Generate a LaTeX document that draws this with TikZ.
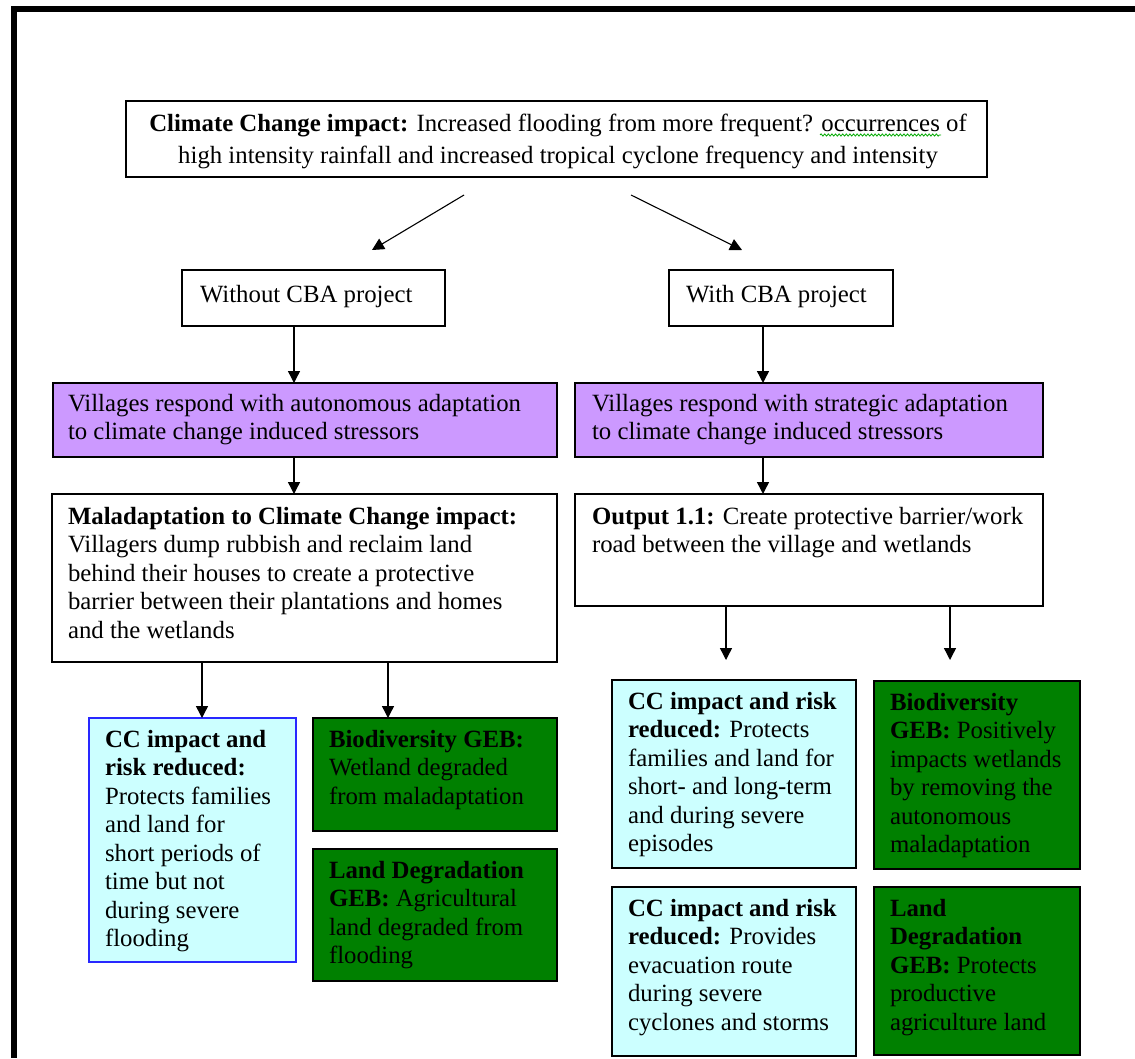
\documentclass[tikz,border=0pt]{standalone}
\usepackage{fontspec}
\setmainfont{Liberation Serif}
\usetikzlibrary{arrows.meta,decorations.pathmorphing}
\definecolor{purplebox}{RGB}{204,153,255}
\definecolor{cyanbox}{RGB}{204,255,255}
\definecolor{greenbox}{RGB}{0,128,0}
\definecolor{bluebord}{RGB}{40,40,255}
\definecolor{spellgreen}{RGB}{0,170,0}
\begin{document}
\begin{tikzpicture}[x=1pt,y=-1pt,
  box/.style={draw=black, line width=1.6pt, rectangle, inner sep=0pt, outer sep=0pt, anchor=north west},
  whitebox/.style={box, fill=white},
  purplebx/.style={box, fill=purplebox},
  cyanbx/.style={box, fill=cyanbox},
  greenbx/.style={box, fill=greenbox},
  txt/.style={inner sep=0pt, outer sep=0pt, anchor=base west, font=\fontsize{24.8}{28.5}\selectfont},
  arr/.style={line width=1.4pt, -{Triangle[length=12pt,width=12pt]}},
  diag/.style={line width=1.1pt, -{Triangle[length=12pt,width=12pt]}}
]
\useasboundingbox (0,0) rectangle (1135,1058);
\fill[white] (0,0) rectangle (1135,1058);
% frame
\fill[black] (11,6) rectangle (1135,12);
\fill[black] (11,6) rectangle (17,1058);

% boxes
\node[whitebox, minimum width=861pt, minimum height=76pt] (top) at (126,101) {};
\node[whitebox, minimum width=263pt, minimum height=56pt] (without) at (182,270) {};
\node[whitebox, minimum width=224pt, minimum height=56pt] (with) at (669,270) {};
\node[purplebx, minimum width=504pt, minimum height=74pt] (purpleL) at (53,383) {};
\node[purplebx, minimum width=468pt, minimum height=74pt] (purpleR) at (575,383) {};
\node[whitebox, minimum width=505pt, minimum height=168pt] (mal) at (52,494) {};
\node[whitebox, minimum width=468pt, minimum height=112pt] (out) at (575,494) {};
\node[cyanbx, draw=bluebord, minimum width=207pt, minimum height=244pt] (lbL) at (89,718) {};
\node[greenbx, minimum width=244pt, minimum height=113pt] (gBioL) at (313,718) {};
\node[greenbx, minimum width=244pt, minimum height=132pt] (gLandL) at (313,849) {};
\node[cyanbx, minimum width=244pt, minimum height=188pt] (lbRa) at (612,680) {};
\node[greenbx, minimum width=206pt, minimum height=188pt] (gBioR) at (874,681) {};
\node[cyanbx, minimum width=244pt, minimum height=169pt] (lbRb) at (612,887) {};
\node[greenbx, minimum width=206pt, minimum height=168pt] (gLandR) at (874,887) {};

% texts
\node[txt, anchor=base, font=\fontsize{24.8}{32}\selectfont] (ttop) at (558,131)
  {\parbox[t]{850pt}{\centering\textbf{Climate Change impact:} Increased flooding from more frequent? occurrences of\\high intensity rainfall and increased tropical cyclone frequency and intensity}};
\draw[spellgreen, line width=0.8pt, decorate, decoration={snake, segment length=3.6pt, amplitude=1.1pt}] (820,135) -- (941,135);

\node[txt] (twithout) at (200,302) {Without CBA project};
\node[txt] (twith) at (686,302) {With CBA project};

\node[txt] (tpurpleL) at (68,411) {\parbox[t]{480pt}{\raggedright Villages respond with autonomous adaptation\\to climate change induced stressors}};
\node[txt] (tpurpleR) at (592,411) {\parbox[t]{440pt}{\raggedright Villages respond with strategic adaptation\\to climate change induced stressors}};

\node[txt] (tmal) at (68,524) {\parbox[t]{480pt}{\raggedright\textbf{Maladaptation to Climate Change impact:}\\Villagers dump rubbish and reclaim land\\behind their houses to create a protective\\barrier between their plantations and homes\\and the wetlands}};
\node[txt] (tout) at (592,524) {\parbox[t]{440pt}{\raggedright\textbf{Output 1.1:} Create protective barrier/work\\road between the village and wetlands}};

\node[txt] (tlbL) at (105,747) {\parbox[t]{186pt}{\raggedright\textbf{CC impact and}\\\textbf{risk reduced:}\\Protects families\\and land for\\short periods of\\time but not\\during severe\\flooding}};
\node[txt] (tgBioL) at (329,747) {\parbox[t]{224pt}{\raggedright\textbf{Biodiversity GEB:}\\Wetland degraded\\from maladaptation}};
\node[txt] (tgLandL) at (329,878) {\parbox[t]{224pt}{\raggedright\textbf{Land Degradation}\\\textbf{GEB:} Agricultural\\land degraded from\\flooding}};

\node[txt] (tlbRa) at (628,709) {\parbox[t]{224pt}{\raggedright\textbf{CC impact and risk}\\\textbf{reduced:} Protects\\families and land for\\short- and long-term\\and during severe\\episodes}};
\node[txt] (tgBioR) at (890,710) {\parbox[t]{186pt}{\raggedright\textbf{Biodiversity}\\\textbf{GEB:} Positively\\impacts wetlands\\by removing the\\autonomous\\maladaptation}};
\node[txt] (tlbRb) at (628,916) {\parbox[t]{224pt}{\raggedright\textbf{CC impact and risk}\\\textbf{reduced:} Provides\\evacuation route\\during severe\\cyclones and storms}};
\node[txt] (tgLandR) at (890,916) {\parbox[t]{186pt}{\raggedright\textbf{Land}\\\textbf{Degradation}\\\textbf{GEB:} Protects\\productive\\agriculture land}};

% connector coordinates
\coordinate (dLs) at (464,195);
\coordinate (dLe) at (372,250);
\coordinate (dRs) at (631,195);
\coordinate (dRe) at (742,250);
\coordinate (xL) at (294,0);
\coordinate (xR) at (763,0);
\coordinate (xa) at (202,0);
\coordinate (xb) at (388,0);
\coordinate (xc) at (726,0);
\coordinate (xd) at (950,0);
\coordinate (endc) at (726,660);
\coordinate (endd) at (950,660);

% connectors
\draw[diag] (dLs) -- (dLe);
\draw[diag] (dRs) -- (dRe);
\draw[arr] (xL |- without.south) -- (xL |- purpleL.north);
\draw[arr] (xR |- with.south) -- (xR |- purpleR.north);
\draw[arr] (xL |- purpleL.south) -- (xL |- mal.north);
\draw[arr] (xR |- purpleR.south) -- (xR |- out.north);
\draw[arr] (xa |- mal.south) -- (xa |- lbL.north);
\draw[arr] (xb |- mal.south) -- (xb |- gBioL.north);
\draw[arr] (xc |- out.south) -- (endc);
\draw[arr] (xd |- out.south) -- (endd);
\end{tikzpicture}
\end{document}
